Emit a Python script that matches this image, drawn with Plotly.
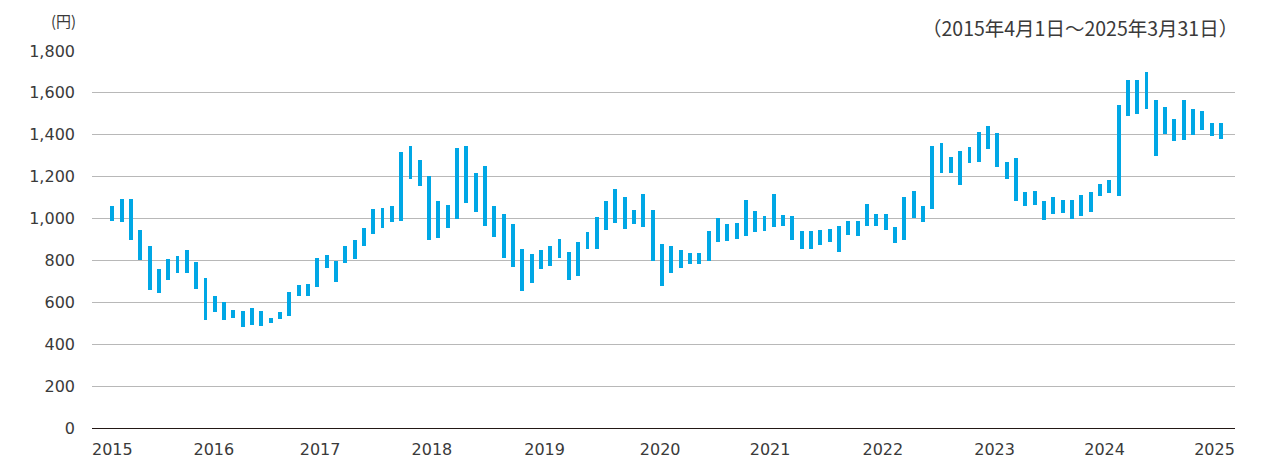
import plotly.graph_objects as go

# Monthly share price range, April 2015 - March 2025 (yen)
months = [f"{2015 + (3 + i) // 12}-{(3 + i) % 12 + 1:02d}" for i in range(120)]

highs = [
    1060, 1092, 1092, 943, 870, 761, 806, 819, 851, 793, 714, 629,
    603, 564, 558, 571, 558, 526, 552, 648, 682, 687, 812, 825,
    799, 868, 897, 955, 1047, 1052, 1059, 1320, 1347, 1281, 1202, 1085,
    1066, 1339, 1347, 1217, 1249, 1059, 1020, 973, 857, 829, 849, 868,
    902, 842, 889, 936, 1007, 1085, 1143, 1104, 1040, 1119, 1040, 877,
    870, 850, 837, 835, 939, 1005, 973, 977, 1089, 1037, 1011, 1116,
    1018, 1011, 939, 939, 945, 952, 965, 990, 990, 1069, 1024, 1024,
    959, 1104, 1132, 1059, 1347, 1360, 1296, 1321, 1341, 1414, 1440, 1407,
    1270, 1289, 1126, 1132, 1085, 1105, 1091, 1090, 1111, 1125, 1166, 1185,
    1540, 1662, 1662, 1700, 1565, 1533, 1475, 1565, 1521, 1514, 1457, 1457,
]
lows = [
    990, 983, 899, 801, 658, 645, 709, 741, 741, 664, 515, 553,
    515, 527, 481, 494, 487, 500, 519, 534, 632, 632, 672, 762,
    696, 786, 809, 867, 926, 957, 982, 990, 1191, 1154, 899, 905,
    957, 997, 1074, 1029, 963, 910, 810, 771, 653, 693, 760, 773,
    811, 706, 726, 857, 857, 944, 981, 949, 975, 962, 798, 680,
    739, 763, 784, 784, 797, 887, 894, 902, 915, 934, 940, 960,
    966, 900, 855, 855, 874, 887, 842, 921, 915, 966, 966, 947,
    884, 897, 1002, 983, 1046, 1219, 1219, 1160, 1265, 1271, 1330, 1245,
    1190, 1082, 1061, 1067, 994, 1021, 1027, 1000, 1013, 1033, 1108, 1120,
    1108, 1490, 1497, 1522, 1297, 1406, 1368, 1375, 1400, 1425, 1394, 1381,
]

year_labels = ["2015", "2016", "2017", "2018", "2019", "2020",
               "2021", "2022", "2023", "2024", "2025"]
year_label_pos = [0, 10.9, 22.3, 34.3, 46.4, 58.8, 70.6, 82.7, 94.7, 106.5, 118.3]

y_ticks = [0, 200, 400, 600, 800, 1000, 1200, 1400, 1600, 1800]
y_tick_text = [f"{v:,}" for v in y_ticks]

x_idx = list(range(len(months)))
spans = [h - l for h, l in zip(highs, lows)]

BAR = "#00a7e5"
TXT = "#3a3a3a"
FONT = "DejaVu Sans"

fig = go.Figure()
fig.add_trace(go.Bar(
    x=x_idx, y=spans, base=lows, width=0.42,
    marker=dict(color=BAR, line=dict(width=0)),
    customdata=list(zip(months, highs, lows)),
    hovertemplate="%{customdata[0]}<br>高値 %{customdata[1]}円<br>安値 %{customdata[2]}円<extra></extra>",
))

fig.update_layout(
    width=1249, height=452,
    margin=dict(l=84, r=22, t=43, b=32, autoexpand=False),
    paper_bgcolor="white", plot_bgcolor="white",
    showlegend=False,
    bargap=0,
    font=dict(family=FONT, size=16, color=TXT),
    xaxis=dict(
        range=[-2.18, 120.5],
        tickmode="array", tickvals=year_label_pos, ticktext=year_labels,
        showgrid=False, zeroline=False, automargin=False,
        showline=True, linecolor="#231815", linewidth=1.3,
        ticks="", ticklabelstandoff=7,
        tickfont=dict(family=FONT, size=16, color=TXT),
        fixedrange=True,
    ),
    yaxis=dict(
        range=[0, 1800], automargin=False,
        tickmode="array", tickvals=y_ticks, ticktext=y_tick_text,
        showgrid=True, gridcolor="#b8b8b8", gridwidth=1,
        zeroline=False, showline=False, ticks="",
        ticklabelstandoff=16,
        tickfont=dict(family=FONT, size=16, color=TXT),
        fixedrange=True,
    ),
    annotations=[
        dict(text="(円)", xref="paper", yref="paper", x=-0.0245, y=1.0,
             yshift=31, xanchor="center", yanchor="middle", showarrow=False,
             font=dict(family="Noto Sans CJK JP", size=15, color=TXT)),
        dict(text="（2015年4月1日～2025年3月31日）", xref="paper", yref="paper",
             x=1.004, y=1.0, yshift=24, xanchor="right", yanchor="middle",
             showarrow=False,
             font=dict(family="Noto Sans CJK JP", size=19.5, color=TXT)),
    ],
)

fig.write_html("out.html")
